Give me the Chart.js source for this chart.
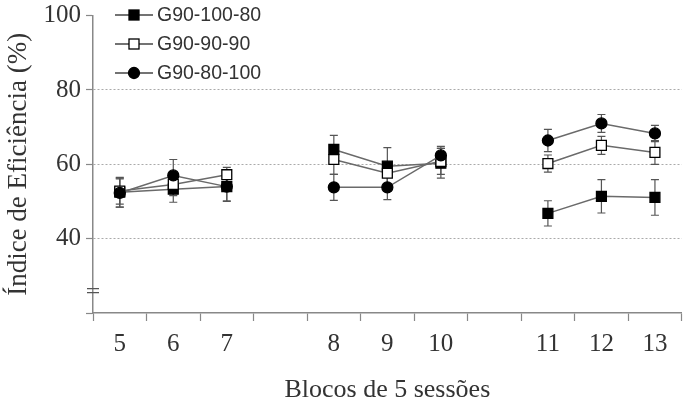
<!DOCTYPE html>
<html>
<head>
<meta charset="utf-8">
<script src="https://cdn.jsdelivr.net/npm/chart.js@4"></script>
<style>
html,body{margin:0;padding:0;background:#fff;}
canvas{display:block;}
</style>
</head>
<body>
<canvas id="c" width="690" height="408"></canvas>
<script>
// ---- data ----
const categories = ['5','6','7','','8','9','10','','11','12','13'];
const seriesNames = ['G90-100-80','G90-90-90','G90-80-100'];
const g100_80 = [52.5, 53.3, 54.0, null, 64.0, 59.5, 60.3, null, 46.8, 51.4, 51.1];
const g90_90  = [52.8, 54.6, 57.2, null, 61.3, 57.6, 60.8, null, 60.2, 65.1, 63.2];
const g80_100 = [52.3, 57.0, 54.0, null, 53.8, 53.8, 62.4, null, 66.4, 71.0, 68.3];
const err100_80 = [4.0, 3.5, 4.0, null, 3.8, 5.0, 4.0, null, 3.4, 4.5, 4.8];
const err90_90  = [3.5, 3.0, 2.0, null, 4.0, 3.0, 3.5, null, 2.3, 2.4, 3.2];
const err80_100 = [3.8, 4.3, 3.8, null, 3.5, 3.3, 2.4, null, 3.0, 2.4, 2.2];
const yTicks = [20, 40, 60, 80, 100];
const yLabeled = [40, 60, 80, 100];
const yGridValues = [40, 60, 80];
const axisBreakValue = 26;

const serif = "'Liberation Serif', 'Times New Roman', serif";
const sans = "'Liberation Sans', Arial, sans-serif";

const markerStyles = [
  {pointStyle:'rect', radius:7, fill:'#000'},
  {pointStyle:'rect', radius:7, fill:'#fff'},
  {pointStyle:'circle', radius:5.5, fill:'#000'}
];
const errs = [err100_80, err90_90, err80_100];
const vals = [g100_80, g90_90, g80_100];

const datasets = vals.map((v, i) => ({
  label: seriesNames[i],
  data: v,
  errors: errs[i],
  borderColor: '#6a6a6a',
  borderWidth: 1.5,
  tension: 0,
  spanGaps: false,
  pointStyle: markerStyles[i].pointStyle,
  pointRadius: markerStyles[i].radius,
  pointHoverRadius: markerStyles[i].radius,
  pointBackgroundColor: markerStyles[i].fill,
  pointBorderColor: '#000',
  pointBorderWidth: 1.3,
  order: 2 - i
}));

const errorBars = {
  id: 'errorBars',
  beforeDatasetsDraw(chart) {
    const {ctx, scales:{x, y}} = chart;
    ctx.save();
    ctx.strokeStyle = '#555';
    ctx.lineWidth = 1.2;
    chart.data.datasets.forEach(ds => {
      ds.data.forEach((v, i) => {
        const e = ds.errors[i];
        if (v == null || e == null) return;
        const px = x.getPixelForValue(i);
        const top = y.getPixelForValue(v + e);
        const bot = y.getPixelForValue(v - e);
        ctx.beginPath();
        ctx.moveTo(px, top); ctx.lineTo(px, bot);
        ctx.moveTo(px - 4, top); ctx.lineTo(px + 4, top);
        ctx.moveTo(px - 4, bot); ctx.lineTo(px + 4, bot);
        ctx.stroke();
      });
    });
    ctx.restore();
  }
};

const extras = {
  id: 'extras',
  afterDraw(chart) {
    const {ctx, scales:{y}, chartArea} = chart;
    // axis break mark
    const by = y.getPixelForValue(axisBreakValue);
    ctx.save();
    ctx.strokeStyle = '#555';
    ctx.lineWidth = 1.2;
    ctx.beginPath();
    ctx.moveTo(chartArea.left - 6, by - 2); ctx.lineTo(chartArea.left + 6, by - 2);
    ctx.moveTo(chartArea.left - 6, by + 2); ctx.lineTo(chartArea.left + 6, by + 2);
    ctx.stroke();
    // legend
    const lx0 = 115, lx1 = 153, mx = 134, tx = 157;
    const rows = [15, 44, 73];
    chart.data.datasets.forEach((ds, i) => {
      const ry = rows[i];
      ctx.strokeStyle = '#444';
      ctx.lineWidth = 1.5;
      ctx.beginPath(); ctx.moveTo(lx0, ry); ctx.lineTo(lx1, ry); ctx.stroke();
      ctx.fillStyle = markerStyles[i].fill;
      ctx.strokeStyle = '#000';
      ctx.lineWidth = 1.3;
      if (markerStyles[i].pointStyle === 'rect') {
        ctx.fillRect(mx - 5, ry - 5, 10, 10);
        ctx.strokeRect(mx - 5, ry - 5, 10, 10);
      } else {
        ctx.beginPath(); ctx.arc(mx, ry, 5.5, 0, Math.PI * 2); ctx.fill(); ctx.stroke();
      }
      ctx.fillStyle = '#333';
      ctx.font = '19.5px ' + sans;
      ctx.textBaseline = 'middle';
      ctx.textAlign = 'left';
      ctx.fillText(ds.label, tx, ry + 1);
    });
    ctx.restore();
  }
};

new Chart(document.getElementById('c'), {
  type: 'line',
  data: { labels: categories, datasets },
  options: {
    responsive: false,
    animation: false,
    devicePixelRatio: 1,
    layout: { padding: { top: 0, right: 3, left: 0, bottom: 0 } },
    plugins: { legend: { display: false }, tooltip: { enabled: false } },
    scales: {
      x: {
        type: 'category',
        offset: true,
        afterFit(s) { s.height = 95; },
        grid: { offset: true, drawOnChartArea: false, drawTicks: true, tickLength: 8, tickColor: '#888', tickWidth: 1.2 },
        border: { display: true, color: '#888', width: 1.5 },
        ticks: { color: '#333', font: { family: serif, size: 25 }, padding: 8, autoSkip: false, maxRotation: 0 },
        title: { display: true, text: 'Blocos de 5 sessões', color: '#333', font: { family: serif, size: 26 }, padding: { top: 0, bottom: 2 } }
      },
      y: {
        min: 20, max: 100,
        afterFit(s) { s.width = 93; },
        afterBuildTicks(s) { s.ticks = yTicks.map(v => ({ value: v })); },
        grid: {
          color: c => yGridValues.includes(c.tick && c.tick.value) ? '#aaa' : 'rgba(0,0,0,0)',
          lineWidth: 1,
          tickColor: '#888',
          tickLength: 7,
          tickWidth: 1.2
        },
        border: { display: true, color: '#888', width: 1.5, dash: [2, 2] },
        ticks: {
          color: '#333',
          font: { family: serif, size: 25, lineHeight: 0.85 },
          padding: 5,
          callback: v => yLabeled.includes(v) ? String(v) : ''
        },
        title: { display: true, text: 'Índice de Eficiência (%)', color: '#333', font: { family: serif, size: 27 }, padding: { top: 3, bottom: 0 } }
      }
    }
  },
  plugins: [errorBars, extras]
});
</script>
</body>
</html>
